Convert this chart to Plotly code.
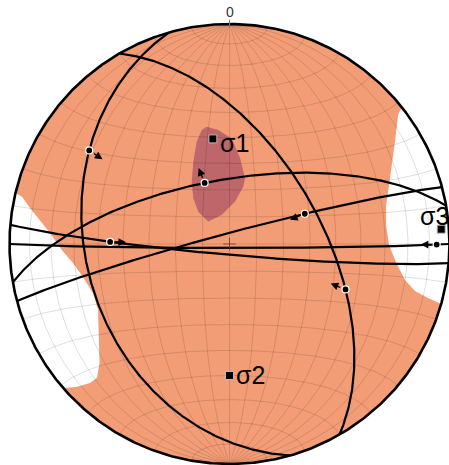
import numpy as np
import plotly.graph_objects as go

# ---------------------------------------------------------------------------
# Fault-slip data (lower hemisphere, equal-area)
# ---------------------------------------------------------------------------
plane_dipdir = [254, 60, 345, 350, 185, 180]        # dip direction (deg)
plane_dip = [35, 56, 86, 66, 86, 88.5]               # dip (deg)
slip_pitch = [134, 125, 120, 85, 135, 6.5]           # pitch from strike (dipdir-90)
slip_sense = [-1, -1, -1, 1, -1, -1]                 # +1 outward, -1 inward arrow

stress_names = ["σ1", "σ2", "σ3"]
stress_trend = [351, 180, 86]
stress_plunge = [50, 40, 4]

# confidence area around sigma 1
sigma1_zone_trend = [349.0, 354.4, 1.2, 7.0, 13.3, 13.5, 7.4, 344.9,
                     316.4, 316.0, 321.6, 328.8, 336.3, 342.2, 346.3]
sigma1_zone_plunge = [44.8, 46.8, 50.3, 57.7, 64.9, 68.2, 74.2, 78.9,
                      78.6, 73.4, 68.4, 62.9, 56.4, 49.6, 45.7]

# extensional sectors (unshaded), inner boundary from primitive to primitive
east_zone_trend = [51.5, 52.6, 57.9, 64.1, 69.7, 76.0, 83.1, 90.4,
                   96.2, 101.6, 104.2, 105.2, 105.8]
east_zone_plunge = [0, 4.0, 12.1, 19.0, 23.7, 27.5, 29.1, 28.3,
                    24.9, 19.7, 14.1, 7.2, 0]
west_zone_trend = [283.4, 282.8, 280.2, 277.2, 273.5, 267.9, 263.1, 257.3,
                   250.2, 243.4, 234.5, 227.5, 224.7, 225.1, 227.0, 229.1]
west_zone_plunge = [0, 3.7, 8.7, 14.3, 19.4, 24.8, 29.1, 32.3,
                    34.4, 33.6, 28.0, 21.0, 15.5, 11.5, 5.2, 0]

north_label = "0"

# ---------------------------------------------------------------------------
# Styling
# ---------------------------------------------------------------------------
ORANGE = "rgb(243,157,118)"
DARK = "rgb(190,102,106)"
GRID = "rgba(0,0,0,0.13)"
FONT = "Liberation Sans, Arial, sans-serif"
W, H = 449, 465
SCALE = 220.0            # px per unit radius
CX, CY = 229.5, 244.0    # centre of the net in px


# ---------------------------------------------------------------------------
# Equal-area (Schmidt) projection helpers
# ---------------------------------------------------------------------------
def project(trend, plunge):
    t = np.radians(np.asarray(trend, float))
    p = np.radians(np.asarray(plunge, float))
    r = np.sqrt(2) * np.sin((np.pi / 2 - p) / 2)
    return r * np.sin(t), r * np.cos(t)


def project_vec(n, e, d):
    s = 1.0 / np.sqrt(1.0 + np.clip(d, -0.999999, None))
    return e * s, n * s


def plane_vectors(dd, dip, angles):
    a = np.radians(np.asarray(angles, float))
    sd = np.radians(dd - 90.0)
    ddr = np.radians(dd)
    dp = np.radians(dip)
    s = np.array([np.cos(sd), np.sin(sd), 0.0])
    dv = np.array([np.cos(dp) * np.cos(ddr), np.cos(dp) * np.sin(ddr), np.sin(dp)])
    v = np.outer(np.cos(a), s) + np.outer(np.sin(a), dv)
    return v[:, 0], v[:, 1], v[:, 2]


def close_on_primitive(trends, plunges):
    x, y = project(trends, plunges)
    arc = np.linspace(trends[-1], trends[0], 60)
    ax, ay = project(arc, np.zeros_like(arc))
    return np.concatenate([x, ax]), np.concatenate([y, ay])


fig = go.Figure()

# base disk
th = np.linspace(0, 2 * np.pi, 721)
fig.add_trace(go.Scatter(x=np.cos(th), y=np.sin(th), mode="lines", fill="toself",
                         fillcolor=ORANGE, line=dict(width=0), hoverinfo="skip"))

# unshaded sectors
for tr, pl in [(east_zone_trend, east_zone_plunge), (west_zone_trend, west_zone_plunge)]:
    zx, zy = close_on_primitive(tr, pl)
    fig.add_trace(go.Scatter(x=zx, y=zy, mode="lines", fill="toself",
                             fillcolor="white", line=dict(width=0), hoverinfo="skip"))

# sigma 1 confidence area
sx, sy = project(sigma1_zone_trend, sigma1_zone_plunge)
fig.add_trace(go.Scatter(x=np.append(sx, sx[0]), y=np.append(sy, sy[0]), mode="lines",
                         fill="toself", fillcolor=DARK, line=dict(width=0), hoverinfo="skip"))

# Schmidt net grid (10 deg), polar axis N-S
gx, gy = [], []
phi_all = np.radians(np.linspace(0, 180, 181))
psi_all = np.radians(np.linspace(0, 180, 181))
for psi in np.radians(np.arange(10, 180, 10)):
    n = np.cos(phi_all)
    e = np.sin(phi_all) * np.cos(psi)
    d = np.sin(phi_all) * np.sin(psi)
    x, y = project_vec(n, e, d)
    gx += list(x) + [None]
    gy += list(y) + [None]
for phi in np.radians(np.arange(10, 180, 10)):
    n = np.full_like(psi_all, np.cos(phi))
    e = np.sin(phi) * np.cos(psi_all)
    d = np.sin(phi) * np.sin(psi_all)
    x, y = project_vec(n, e, d)
    gx += list(x) + [None]
    gy += list(y) + [None]
fig.add_trace(go.Scatter(x=gx, y=gy, mode="lines", line=dict(color=GRID, width=1),
                         hoverinfo="skip"))

# fault planes
for dd, dip in zip(plane_dipdir, plane_dip):
    n, e, d = plane_vectors(dd, dip, np.linspace(0, 180, 361))
    x, y = project_vec(n, e, d)
    fig.add_trace(go.Scatter(x=x, y=y, mode="lines", line=dict(color="black", width=2.2),
                             hoverinfo="skip"))

# primitive
fig.add_trace(go.Scatter(x=np.cos(th), y=np.sin(th), mode="lines",
                         line=dict(color="black", width=2.6), hoverinfo="skip"))

# north tick
fig.add_trace(go.Scatter(x=[0, 0], y=[0.985, 1.02], mode="lines",
                         line=dict(color="#777", width=1), hoverinfo="skip"))

# centre cross
fig.add_trace(go.Scatter(x=[0], y=[0], mode="markers",
                         marker=dict(symbol="cross-thin", size=9,
                                     line=dict(color="rgba(90,50,40,0.7)", width=1)),
                         hoverinfo="skip"))

# slickenlines with slip arrows
arrow_len = 16 / SCALE
annotations = []
lx_all, ly_all = [], []
for dd, dip, pitch, sense in zip(plane_dipdir, plane_dip, slip_pitch, slip_sense):
    n, e, d = plane_vectors(dd, dip, [pitch])
    x, y = project_vec(n, e, d)
    x, y = float(x[0]), float(y[0])
    lx_all.append(x)
    ly_all.append(y)
    r = np.hypot(x, y)
    ux, uy = x / r, y / r
    hx, hy = x + sense * ux * arrow_len, y + sense * uy * arrow_len
    annotations.append(dict(x=hx, y=hy, ax=x, ay=y, xref="x", yref="y",
                            axref="x", ayref="y", text="", showarrow=True,
                            arrowhead=2, arrowsize=1.1, arrowwidth=1.4,
                            arrowcolor="black", startstandoff=4, standoff=0))
fig.add_trace(go.Scatter(x=lx_all, y=ly_all, mode="markers",
                         marker=dict(size=7, color="black", line=dict(color="white", width=1.2)),
                         hoverinfo="skip"))

# principal stress axes
px, py = project(stress_trend, stress_plunge)
fig.add_trace(go.Scatter(x=px, y=py, mode="markers",
                         marker=dict(symbol="square", size=8, color="black",
                                     line=dict(color="#bbb", width=1)),
                         hoverinfo="skip"))
label_shift = [(5, -4), (4, 0), (-23, 13)]
for name, x, y, (dx, dy) in zip(stress_names, px, py, label_shift):
    annotations.append(dict(x=float(x), y=float(y), xref="x", yref="y", text=name,
                            showarrow=False, xanchor="left", yanchor="middle",
                            xshift=dx, yshift=dy,
                            font=dict(family=FONT, size=25, color="black")))

annotations.append(dict(x=0, y=1.0, xref="x", yref="y", text=north_label, showarrow=False,
                        xanchor="center", yanchor="bottom", yshift=2,
                        font=dict(family=FONT, size=14, color="#333")))

fig.update_layout(
    width=W, height=H, margin=dict(l=0, r=0, t=0, b=0),
    paper_bgcolor="white", plot_bgcolor="white", showlegend=False,
    annotations=annotations,
    xaxis=dict(range=[-CX / SCALE, (W - CX) / SCALE], visible=False, fixedrange=True),
    yaxis=dict(range=[-(H - CY) / SCALE, CY / SCALE], visible=False, fixedrange=True),
)

fig.write_html("out.html")
